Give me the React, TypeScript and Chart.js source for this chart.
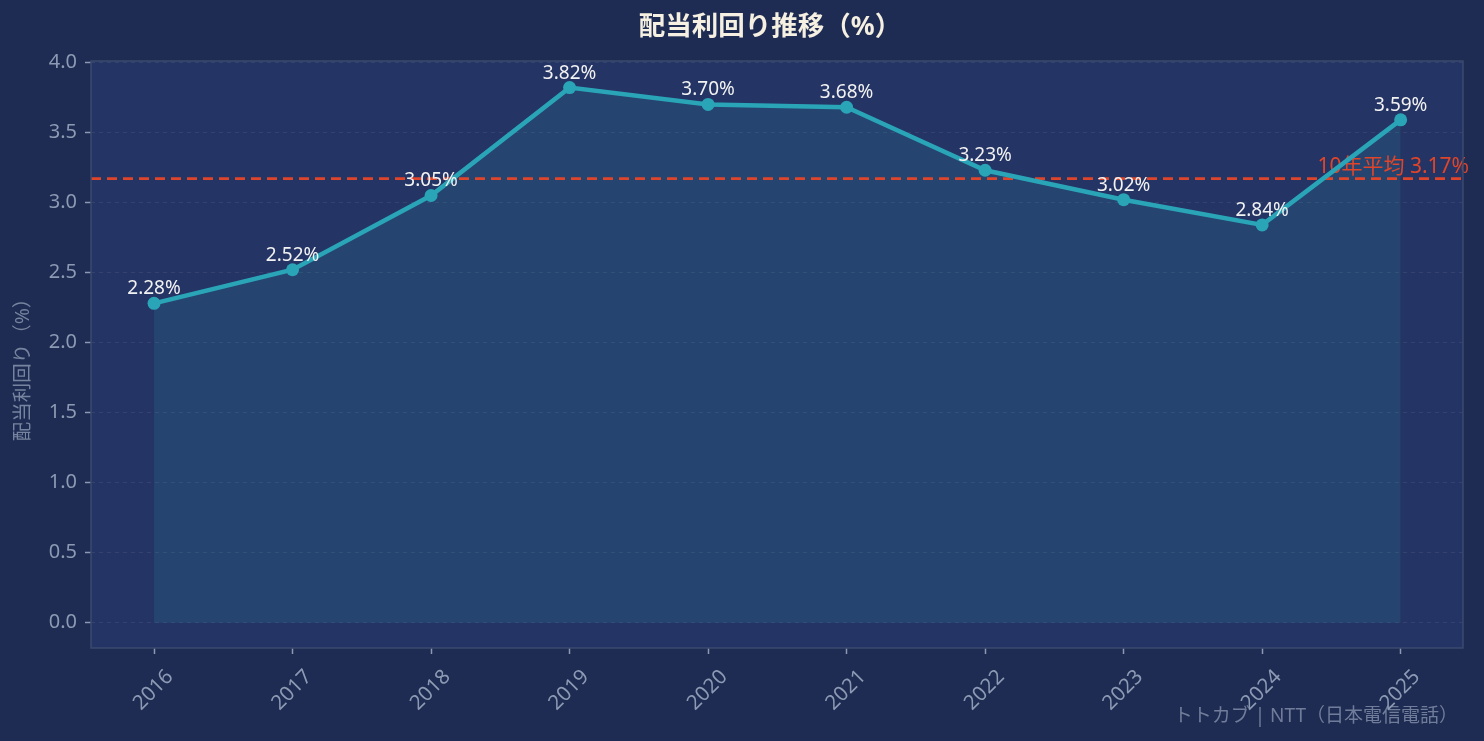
import { useEffect, useRef } from "react"
import { Chart, registerables } from "chart.js"

Chart.register(...registerables)

// 年度と配当利回り（%）
const years = [2016, 2017, 2018, 2019, 2020, 2021, 2022, 2023, 2024, 2025]
const yields = [2.28, 2.52, 3.05, 3.82, 3.7, 3.68, 3.23, 3.02, 2.84, 3.59]
const avgYield = 3.17
const yTicks = [0, 0.5, 1.0, 1.5, 2.0, 2.5, 3.0, 3.5, 4.0]

const FONT = '"Noto Sans", "Noto Sans CJK JP", sans-serif'
const PAGE_BG = "#1e2b52"
const PLOT_BG = "#243464"
const LINE = "#2aa5b8"
const RED = "#e0452a"
const TICK_TEXT = "#8d9ab4"
const SPINE = "#3a4a6e"

const decorPlugin = {
  id: "decor",
  beforeDraw(chart: Chart) {
    const { ctx, chartArea: a, width, height } = chart
    ctx.save()
    ctx.fillStyle = PAGE_BG
    ctx.fillRect(0, 0, width, height)
    ctx.fillStyle = PLOT_BG
    ctx.fillRect(a.left, a.top, a.right - a.left, a.bottom - a.top)
    ctx.restore()
  },
  beforeDatasetsDraw(chart: Chart) {
    // 10年平均の破線
    const { ctx, chartArea: a, scales } = chart
    const y = scales.y.getPixelForValue(avgYield)
    ctx.save()
    ctx.strokeStyle = RED
    ctx.lineWidth = 2.8
    ctx.setLineDash([10, 6])
    ctx.beginPath()
    ctx.moveTo(a.left, y)
    ctx.lineTo(a.right, y)
    ctx.stroke()
    ctx.setLineDash([])
    ctx.fillStyle = RED
    ctx.font = `21px ${FONT}`
    ctx.textAlign = "right"
    ctx.textBaseline = "alphabetic"
    ctx.fillText(`10年平均 ${avgYield.toFixed(2)}%`, a.right + 6, y - 6)
    ctx.restore()
  },
  afterDatasetsDraw(chart: Chart) {
    const { ctx } = chart
    const meta = chart.getDatasetMeta(0)
    ctx.save()
    ctx.fillStyle = "#f2f2f2"
    ctx.font = `19px ${FONT}`
    ctx.textAlign = "center"
    ctx.textBaseline = "alphabetic"
    meta.data.forEach((pt, i) => {
      ctx.fillText(`${yields[i].toFixed(2)}%`, pt.x, pt.y - 9)
    })
    ctx.restore()
  },
  afterDraw(chart: Chart) {
    const { ctx, chartArea: a } = chart
    ctx.save()
    // 枠線
    ctx.strokeStyle = SPINE
    ctx.lineWidth = 1.5
    ctx.strokeRect(a.left, a.top, a.right - a.left, a.bottom - a.top)

    // タイトル
    ctx.fillStyle = "#f5f0e1"
    ctx.font = `bold 26.5px ${FONT}`
    ctx.textAlign = "center"
    ctx.textBaseline = "middle"
    ctx.fillText("配当利回り推移（%）", 770, 27)

    // Y軸タイトル
    ctx.save()
    ctx.translate(23, 365)
    ctx.rotate(-Math.PI / 2)
    ctx.fillStyle = "#76849f"
    ctx.font = `19.5px ${FONT}`
    ctx.fillText("配当利回り（%）", 0, 0)
    ctx.restore()

    // 出典
    ctx.fillStyle = "rgba(140,152,178,0.75)"
    ctx.font = `19px ${FONT}`
    ctx.textAlign = "right"
    ctx.textBaseline = "alphabetic"
    ctx.fillText("トトカブ | NTT（日本電信電話）", 1458, 722)
    ctx.restore()
  },
}

export default function App() {
  const canvasRef = useRef<HTMLCanvasElement>(null)

  useEffect(() => {
    document.body.style.margin = "0"
    document.body.style.background = PAGE_BG
    if (!canvasRef.current) return
    const chart = new Chart(canvasRef.current, {
      type: "line",
      data: {
        datasets: [
          {
            label: "配当利回り",
            data: years.map((yr, i) => ({ x: yr, y: yields[i] })),
            borderColor: LINE,
            backgroundColor: "rgba(45,160,180,0.16)",
            borderWidth: 4.5,
            pointRadius: 6.5,
            pointBackgroundColor: LINE,
            pointBorderWidth: 0,
            fill: "origin",
            tension: 0,
          },
        ],
      },
      options: {
        responsive: true,
        maintainAspectRatio: false,
        animation: false,
        layout: { padding: { top: 61, right: 21, bottom: 0, left: 0 } },
        plugins: {
          legend: { display: false },
          title: { display: false },
          tooltip: { enabled: false },
          filler: { drawTime: "beforeDatasetsDraw" },
        },
        scales: {
          x: {
            type: "linear",
            min: 2015.545,
            max: 2025.45,
            afterBuildTicks: (scale: any) => {
              scale.ticks = years.map((v) => ({ value: v }))
            },
            afterFit: (scale: any) => {
              scale.height = 93
            },
            border: { display: false },
            grid: {
              drawOnChartArea: false,
              tickLength: 6,
              tickColor: TICK_TEXT,
              tickWidth: 1.5,
            },
            ticks: {
              color: TICK_TEXT,
              font: { family: FONT, size: 20.5 },
              maxRotation: 45,
              minRotation: 45,
              labelOffset: 16,
              padding: 11,
              callback: (v: any) => String(v),
            },
          },
          y: {
            min: -0.18,
            max: 4.01,
            afterBuildTicks: (scale: any) => {
              scale.ticks = yTicks.map((v) => ({ value: v }))
            },
            afterFit: (scale: any) => {
              scale.width = 91
            },
            border: { display: false, dash: [4, 4] },
            grid: {
              color: "rgba(255,255,255,0.07)",
              lineWidth: 1,
              tickLength: 6,
              tickColor: TICK_TEXT,
              tickWidth: 1.5,
            },
            ticks: {
              color: TICK_TEXT,
              font: { family: FONT, size: 20 },
              padding: 8,
              callback: (v: any) => Number(v).toFixed(1),
            },
          },
        },
      },
      plugins: [decorPlugin],
    })
    return () => chart.destroy()
  }, [])

  return (
    <div style={{ width: "1484px", height: "741px" }}>
      <canvas ref={canvasRef} />
    </div>
  )
}
